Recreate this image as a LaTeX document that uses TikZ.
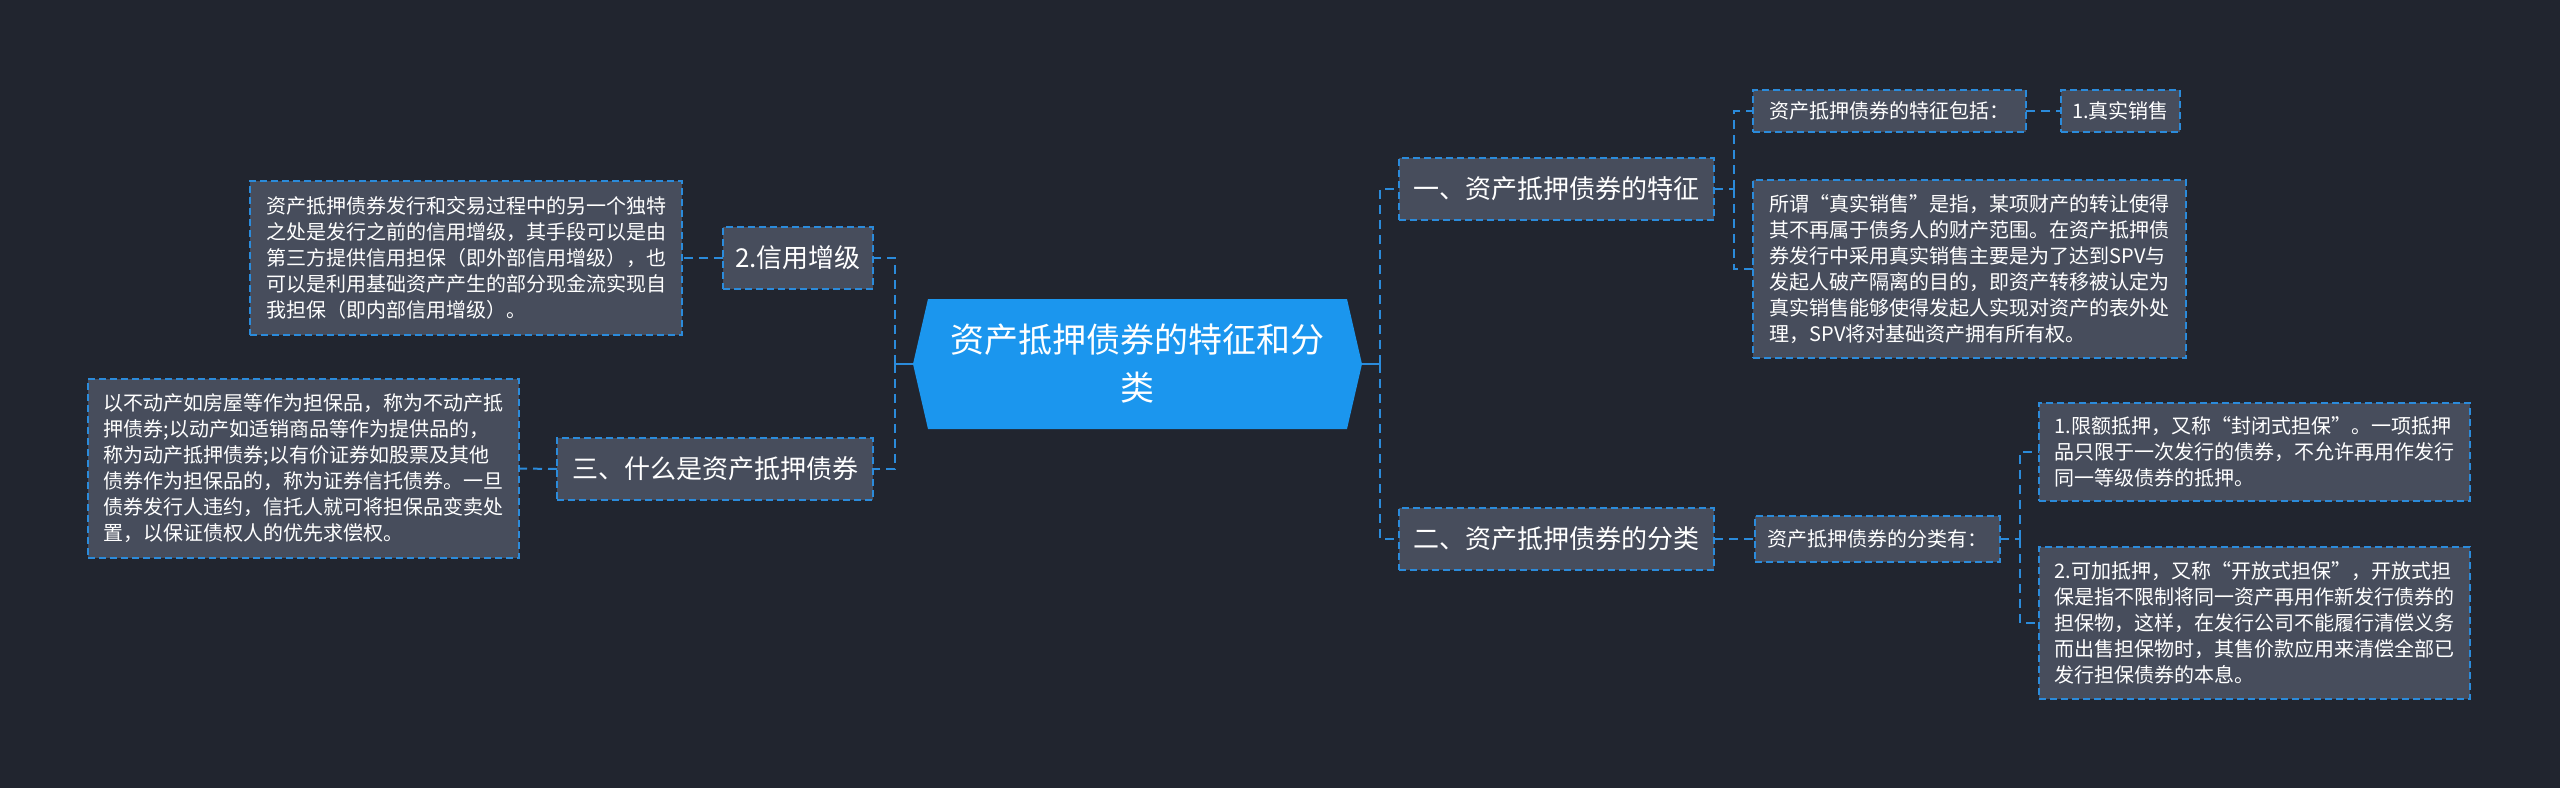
\documentclass[tikz,border=0pt]{standalone}
\usepackage{fontspec}
\setmainfont{Noto Sans CJK SC}
\usetikzlibrary{backgrounds}
\definecolor{bgc}{HTML}{21252F}
\definecolor{boxfill}{HTML}{474D5C}
\definecolor{bline}{HTML}{2B8BDB}
\definecolor{hubfill}{HTML}{1B96EE}
\begin{document}
\begin{tikzpicture}[x=1pt,y=-1pt,
  every node/.style={inner sep=0pt, outer sep=0pt},
  hubnode/.style={text=white, align=center, font=\fontsize{34}{48}\selectfont,
    minimum width=449pt, minimum height=130pt},
  boxbase/.style={draw=bline, line width=2pt, dash pattern=on 7pt off 4pt,
    fill=boxfill, text=white},
  lvlone/.style={boxbase, font=\fontsize{26}{32}\selectfont, minimum height=62pt},
  lvltwo/.style={boxbase, font=\fontsize{20}{26}\selectfont, minimum height=42pt},
  txtbox/.style={boxbase, font=\fontsize{20}{26}\selectfont, align=left},
  conn/.style={draw=bline, line width=2pt, dash pattern=on 9pt off 6pt},
  solidconn/.style={draw=bline, line width=2.5pt}
]
\useasboundingbox (0,0) rectangle (2560,788);
\begin{scope}[on background layer]
  \fill[bgc] (0,0) rectangle (2560,788);
\end{scope}

% central hub
\node[hubnode] (c) at (1137.5,364) {资产抵押债券的特征和分\\类};
\begin{scope}[on background layer]
  \fill[hubfill] (c.west) -- ([xshift=15pt]c.north west) -- ([xshift=-15pt]c.north east)
    -- (c.east) -- ([xshift=-15pt]c.south east) -- ([xshift=15pt]c.south west) -- cycle;
\end{scope}

% left side
\node[lvlone, minimum width=150pt] (xy) at (798,258) {2.信用增级};
\node[txtbox, minimum width=432pt, minimum height=154pt] (xyt) at (466,258)
  {资产抵押债券发行和交易过程中的另一个独特\\之处是发行之前的信用增级，其手段可以是由\\第三方提供信用担保（即外部信用增级），也\\可以是利用基础资产产生的部分现金流实现自\\我担保（即内部信用增级）。};
\node[lvlone, minimum width=316pt] (sm) at (715,469) {三、什么是资产抵押债券};
\node[txtbox, minimum width=431pt, minimum height=179pt] (smt) at (303.5,468.5)
  {以不动产如房屋等作为担保品，称为不动产抵\\押债券;以动产如适销商品等作为提供品的，\\称为动产抵押债券;以有价证券如股票及其他\\债券作为担保品的，称为证券信托债券。一旦\\债券发行人违约，信托人就可将担保品变卖处\\置，以保证债权人的优先求偿权。};

% right side
\node[lvlone, minimum width=315pt] (tz) at (1556.5,189) {一、资产抵押债券的特征};
\node[lvltwo, minimum width=273pt] (tzb) at (1889.5,111) {资产抵押债券的特征包括：};
\node[lvltwo, minimum width=119pt] (zs) at (2120.5,111) {1.真实销售};
\node[txtbox, minimum width=433pt, minimum height=178pt] (tzt) at (1969.5,269)
  {所谓“真实销售”是指，某项财产的转让使得\\其不再属于债务人的财产范围。在资产抵押债\\券发行中采用真实销售主要是为了达到SPV与\\发起人破产隔离的目的，即资产转移被认定为\\真实销售能够使得发起人实现对资产的表外处\\理，SPV将对基础资产拥有所有权。};
\node[lvlone, minimum width=315pt] (fl) at (1556.5,539) {二、资产抵押债券的分类};
\node[lvltwo, minimum width=245pt, minimum height=46pt] (flb) at (1877.5,539) {资产抵押债券的分类有：};
\node[txtbox, minimum width=431pt, minimum height=98pt] (xe) at (2254.5,452)
  {1.限额抵押，又称“封闭式担保”。一项抵押\\品只限于一次发行的债券，不允许再用作发行\\同一等级债券的抵押。};
\node[txtbox, minimum width=431pt, minimum height=152pt] (kj) at (2254.5,623)
  {2.可加抵押，又称“开放式担保”，开放式担\\保是指不限制将同一资产再用作新发行债券的\\担保物，这样，在发行公司不能履行清偿义务\\而出售担保物时，其售价款应用来清偿全部已\\发行担保债券的本息。};

% spines
\coordinate (ls) at (895,364);
\coordinate (rs) at (1380,364);
\coordinate (tzs) at (1734,189);
\coordinate (fls) at (2020,539);

\begin{scope}[on background layer]
\draw[solidconn] (c.west) -- (ls);
\draw[solidconn] (c.east) -- (rs);
\end{scope}
\draw[conn] (ls) |- (xy.east);
\draw[conn] (ls) |- (sm.east);
\draw[conn] (xy.west) -- (xyt.east);
\draw[conn] (sm.west) -- (smt.east);
\draw[conn] (rs) |- (tz.west);
\draw[conn] (rs) |- (fl.west);
\draw[conn] (tz.east) -- (tzs);
\draw[conn] (tzs) |- (tzb.west);
\draw[conn] (tzs) |- (tzt.west);
\draw[conn] (tzb.east) -- (zs.west);
\draw[conn] (fl.east) -- (flb.west);
\draw[conn] (flb.east) -- (fls);
\draw[conn] (fls) |- (xe.west);
\draw[conn] (fls) |- (kj.west);
\end{tikzpicture}
\end{document}
